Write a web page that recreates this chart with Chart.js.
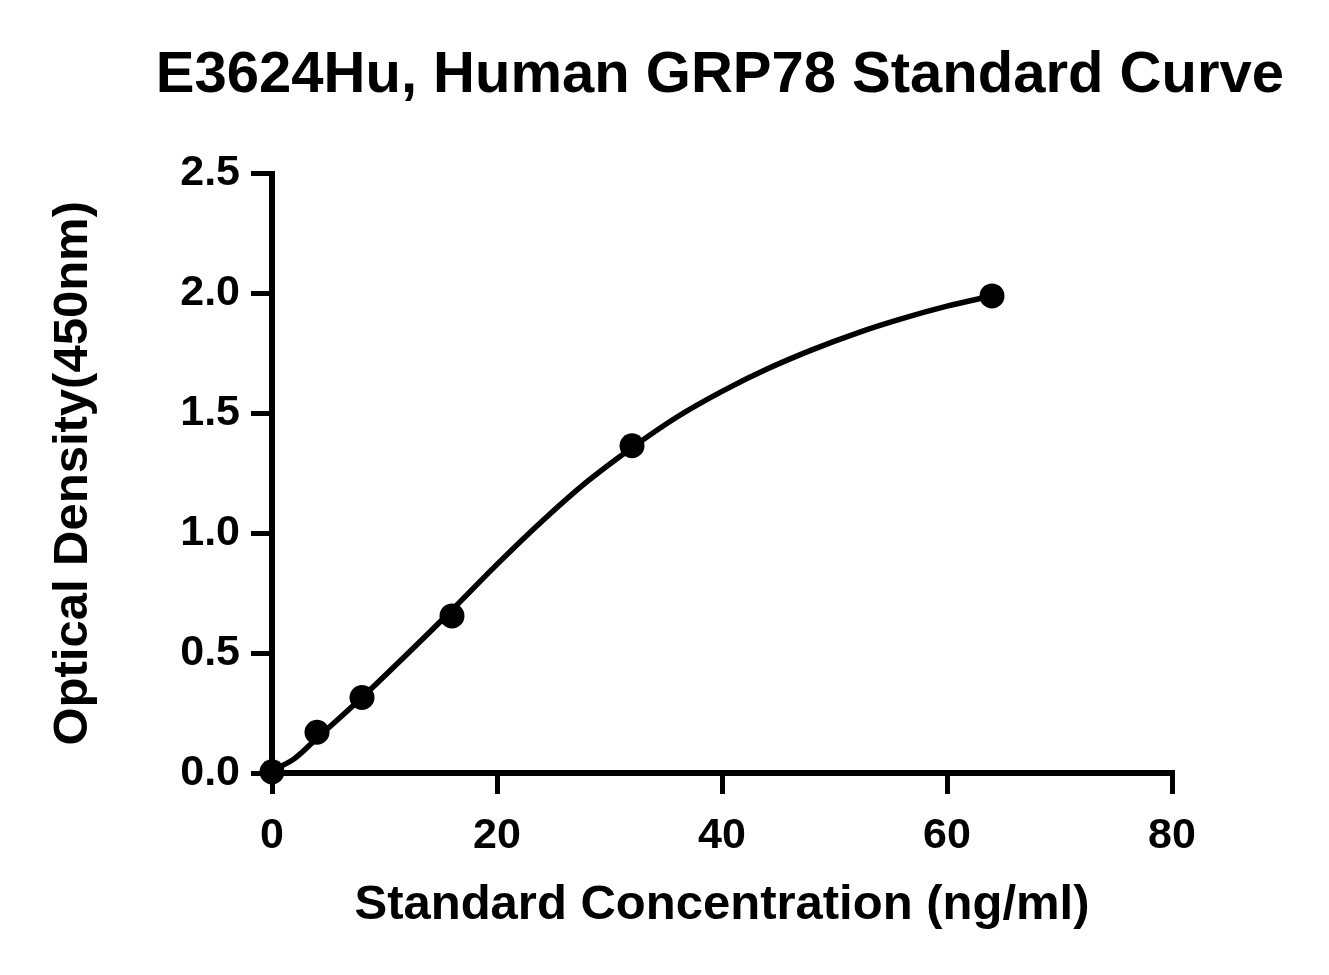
<!DOCTYPE html>
<html>
<head>
<meta charset="utf-8">
<title>E3624Hu Standard Curve</title>
<script src="https://cdn.jsdelivr.net/npm/chart.js@4/dist/chart.umd.min.js"></script>
<style>
  html, body { margin: 0; padding: 0; background: #fff; }
  #wrap { width: 1329px; height: 975px; position: relative; }
</style>
</head>
<body>
<div id="wrap"><canvas id="curveChart"></canvas></div>
<script>
// Titik standar
const konsentrasi = [0, 4, 8, 16, 32, 64];
const nilaiOD = [0.005, 0.17, 0.315, 0.655, 1.365, 1.99];

// Kurva fit (dibaca dari garis di gambar)
const kurvaX = [0, 2, 4, 8, 12, 16, 20, 24, 28, 32, 36, 40, 44, 48, 52, 56, 60, 64];
const kurvaY = [0.01, 0.06, 0.145, 0.315, 0.495, 0.68, 0.87, 1.05, 1.215, 1.357, 1.485, 1.592, 1.685, 1.765, 1.835, 1.895, 1.947, 1.99];

// Label sumbu
const xTicks = [0, 20, 40, 60, 80];
const yTicks = [0.0, 0.5, 1.0, 1.5, 2.0, 2.5];

const judul = 'E3624Hu, Human GRP78 Standard Curve';
const judulX = 'Standard Concentration (ng/ml)';
const judulY = 'Optical Density(450nm)';

const FONT = "'Liberation Sans', Arial, sans-serif";

const titikStandar = konsentrasi.map((k, i) => ({ x: k, y: nilaiOD[i] }));
const titikKurva = kurvaX.map((k, i) => ({ x: k, y: kurvaY[i] }));

// Gaya garis sumbu dan tick (dipakai x dan y)
const gayaGrid = {
    drawOnChartArea: false,
    drawTicks: true,
    tickLength: 21,
    tickWidth: 5,
    tickColor: '#000',
    lineWidth: 5,
    color: '#000'
};
const gayaBorder = { display: true, color: '#000', width: 6 };

const ctx = document.getElementById('curveChart').getContext('2d');

new Chart(ctx, {
    type: 'scatter',
    data: {
        datasets: [
            {
                label: 'Standard',
                data: titikStandar,
                pointRadius: 12.5,
                pointHoverRadius: 12.5,
                pointBackgroundColor: '#000',
                pointBorderColor: '#000',
                pointBorderWidth: 0,
                showLine: false,
                clip: false,
                order: 0
            },
            {
                label: 'Fit',
                data: titikKurva,
                showLine: true,
                borderColor: '#000',
                borderWidth: 5.5,
                pointRadius: 0,
                cubicInterpolationMode: 'monotone',
                fill: false,
                order: 1
            }
        ]
    },
    options: {
        responsive: true,
        maintainAspectRatio: false,
        animation: false,
        layout: { padding: { left: 0, right: 45, top: 0, bottom: 0 } },
        plugins: {
            legend: { display: false },
            tooltip: { enabled: false },
            title: {
                display: true,
                text: judul,
                align: 'end',
                color: '#000',
                font: { family: FONT, size: 58, weight: 'bold' },
                padding: { top: 41, bottom: 63 }
            }
        },
        scales: {
            x: {
                type: 'linear',
                min: 0,
                max: 80,
                afterFit: (scale) => { scale.height = 202; },
                afterBuildTicks: (scale) => { scale.ticks = xTicks.map(v => ({ value: v })); },
                ticks: {
                    color: '#000',
                    padding: 16,
                    maxRotation: 0,
                    font: { family: FONT, size: 43, weight: 'bold' }
                },
                grid: gayaGrid,
                border: gayaBorder,
                title: {
                    display: true,
                    text: judulX,
                    color: '#000',
                    font: { family: FONT, size: 49, weight: 'bold' },
                    padding: { top: 0, bottom: 40 }
                }
            },
            y: {
                type: 'linear',
                min: 0,
                max: 2.5,
                afterFit: (scale) => { scale.width = 272; },
                afterBuildTicks: (scale) => { scale.ticks = yTicks.map(v => ({ value: v })); },
                ticks: {
                    color: '#000',
                    padding: 11,
                    font: { family: FONT, size: 43, weight: 'bold' },
                    callback: (v) => Number(v).toFixed(1)
                },
                grid: gayaGrid,
                border: gayaBorder,
                title: {
                    display: true,
                    text: judulY,
                    color: '#000',
                    font: { family: FONT, size: 49, weight: 'bold' },
                    padding: { top: 44, bottom: 0 }
                }
            },
            // sumbu kosong di kanan, hanya untuk memberi ruang
            kanan: {
                type: 'linear',
                position: 'right',
                min: 0,
                max: 1,
                afterFit: (scale) => { scale.width = 112; },
                ticks: { display: false },
                grid: { display: false },
                border: { display: false }
            }
        }
    }
});
</script>
</body>
</html>
